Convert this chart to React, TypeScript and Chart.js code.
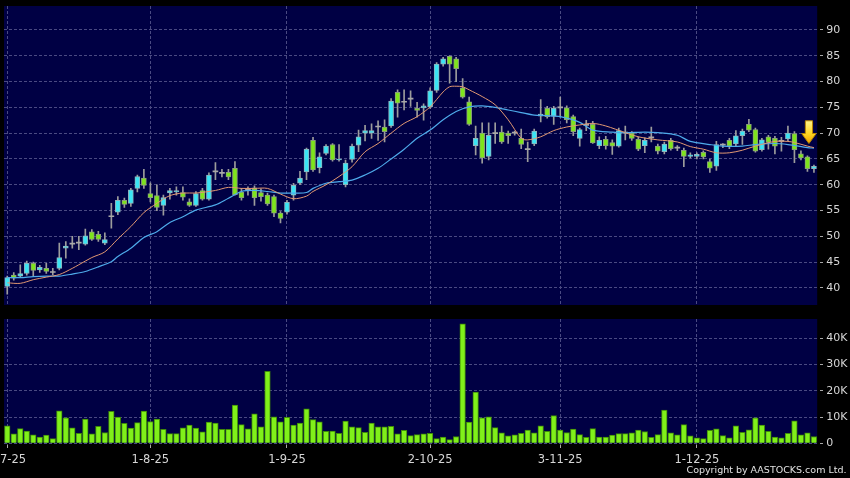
import React, { useEffect, useRef } from 'react';
import { Chart, registerables } from 'chart.js';

Chart.register(...registerables);

// ---- data ----
const opens = [
  40.3, 42.5, 42.3, 42.8, 44.8, 43.5, 43.8, 43.0, 43.8, 47.7,
  48.5, 48.7, 48.5, 50.9, 50.4, 48.7, 53.8, 54.7, 57.0, 56.4,
  59.3, 61.3, 58.3, 57.9, 56.0, 58.4, 58.6, 58.5, 56.7, 56.0,
  58.9, 57.2, 62.5, 62.2, 62.4, 63.2, 58.6, 59.0, 59.4, 58.5,
  58.0, 57.7, 54.5, 54.7, 58.0, 60.3, 62.5, 68.6, 63.3, 66.1,
  67.8, 64.8, 60.0, 64.9, 67.7, 70.0, 70.0, 71.2, 71.2, 71.4,
  77.9, 76.0, 76.6, 74.8, 74.9, 75.1, 78.3, 83.4, 84.9, 84.4,
  78.8, 76.1, 67.6, 70.0, 65.5, 69.9, 70.2, 70.0, 70.0, 69.0,
  66.8, 67.9, 73.3, 74.8, 73.3, 74.9, 74.9, 73.2, 69.0, 71.5,
  71.7, 67.6, 68.8, 68.2, 67.5, 70.0, 70.0, 68.8, 67.6, 69.1,
  67.5, 66.4, 68.6, 67.1, 66.7, 65.5, 65.5, 66.3, 64.5, 63.6,
  67.7, 68.6, 67.9, 69.5, 71.7, 70.7, 66.8, 69.3, 69.0, 68.4,
  68.9, 69.9, 66.0, 65.4, 63.1,
];
const closes = [
  42.0, 41.9, 42.8, 44.8, 43.4, 44.0, 43.2, 43.0, 45.9, 48.1,
  48.5, 48.7, 50.1, 49.4, 49.4, 49.4, 53.8, 57.0, 56.2, 59.0,
  61.6, 59.9, 57.5, 55.6, 57.5, 58.9, 58.9, 57.6, 56.0, 58.3,
  57.2, 61.9, 62.5, 62.2, 61.5, 58.1, 57.5, 59.0, 57.5, 57.7,
  56.3, 54.5, 53.5, 56.6, 59.9, 61.3, 66.9, 62.9, 65.4, 67.5,
  64.8, 65.0, 64.2, 67.5, 69.3, 70.5, 70.5, 71.2, 70.3, 76.2,
  75.8, 76.0, 76.6, 74.4, 75.3, 78.2, 83.4, 84.4, 83.4, 82.5,
  77.0, 71.7, 69.0, 65.2, 69.6, 69.9, 68.3, 69.5, 70.0, 67.8,
  66.8, 70.4, 73.7, 73.2, 74.8, 74.9, 72.6, 70.3, 70.7, 71.5,
  68.1, 68.6, 67.6, 67.5, 70.5, 70.0, 69.0, 66.9, 68.6, 69.1,
  66.5, 67.9, 67.0, 67.1, 65.5, 65.8, 65.9, 65.4, 63.2, 67.8,
  67.7, 67.5, 69.5, 70.4, 70.6, 66.5, 68.7, 68.2, 67.5, 68.4,
  70.0, 66.8, 65.2, 63.1, 63.6,
];
const highs = [
  42.3, 43.0, 44.5, 45.2, 45.0, 44.4, 44.8, 43.8, 48.7, 49.0,
  50.0, 50.0, 51.4, 51.3, 51.0, 50.7, 56.4, 57.7, 57.4, 59.3,
  61.9, 63.0, 60.4, 60.0, 58.0, 59.3, 59.6, 59.6, 57.3, 58.7,
  59.3, 62.3, 64.3, 63.0, 63.0, 64.5, 59.3, 59.6, 59.8, 59.2,
  58.4, 58.0, 54.8, 57.0, 60.3, 62.6, 67.1, 69.2, 66.2, 67.8,
  68.0, 67.8, 64.8, 67.9, 70.6, 71.5, 71.8, 72.4, 72.6, 76.7,
  78.4, 78.4, 78.2, 76.0, 75.7, 78.8, 83.7, 84.7, 85.0, 84.7,
  80.6, 77.0, 71.4, 72.0, 72.0, 72.0, 71.4, 70.4, 70.4, 70.8,
  68.3, 70.8, 76.5, 75.2, 75.2, 77.0, 75.3, 73.5, 71.0, 72.5,
  72.3, 69.3, 69.4, 68.7, 71.0, 71.4, 70.3, 69.3, 69.1, 71.2,
  67.9, 68.3, 69.0, 67.6, 67.1, 66.2, 66.2, 66.6, 65.0, 68.4,
  68.0, 69.0, 70.5, 70.8, 72.7, 71.0, 69.0, 69.6, 69.4, 69.2,
  71.4, 70.3, 66.6, 65.6, 63.8,
];
const lows = [
  38.8, 41.5, 42.0, 42.5, 42.3, 43.0, 42.8, 42.6, 43.5, 45.8,
  47.7, 47.4, 48.3, 49.2, 49.0, 48.4, 51.6, 54.2, 55.6, 55.8,
  58.6, 59.3, 56.7, 55.0, 54.1, 57.2, 58.0, 57.0, 55.8, 55.8,
  57.0, 57.0, 61.0, 61.5, 61.0, 58.0, 57.0, 58.0, 56.0, 56.8,
  56.0, 53.8, 52.6, 54.3, 57.0, 60.0, 61.0, 62.6, 62.3, 65.8,
  64.6, 64.6, 59.6, 64.4, 66.4, 68.5, 69.0, 68.6, 68.3, 71.1,
  73.1, 74.5, 75.2, 73.1, 72.5, 74.8, 77.9, 83.0, 79.7, 80.0,
  76.8, 71.5, 65.8, 64.2, 64.8, 68.0, 68.0, 68.0, 69.6, 67.0,
  64.5, 67.6, 72.2, 72.9, 71.7, 73.1, 72.0, 69.5, 67.5, 70.5,
  68.0, 67.0, 66.9, 65.9, 67.3, 68.7, 68.6, 66.6, 66.2, 68.3,
  66.0, 66.0, 66.7, 66.6, 63.5, 65.2, 65.0, 65.0, 62.4, 62.8,
  67.2, 67.0, 67.5, 67.8, 70.3, 66.3, 66.5, 66.9, 66.0, 66.5,
  68.5, 64.3, 64.8, 62.6, 62.4,
];
const volumes = [
  6700, 3600, 5600, 4700, 3200, 2400, 3100, 1800, 12400, 9700,
  5900, 3800, 9200, 3600, 6500, 4100, 12200, 10000, 7600, 5800,
  7900, 12300, 8300, 9200, 5300, 3700, 3700, 5900, 6900, 5800,
  4400, 8100, 7700, 5300, 5300, 14600, 7100, 5500, 11200, 6300,
  27400, 10100, 8200, 9900, 6900, 7700, 13100, 9000, 8200, 4600,
  4700, 3800, 8500, 6300, 6000, 4200, 7700, 6300, 6300, 6500,
  3600, 4900, 2900, 3300, 3600,
  3800, 1800, 2400, 1400, 2600, 45500, 8100, 19500, 9700, 10100,
  6000, 4000, 2800, 3200, 3800, 5000, 4000, 6700, 4600, 10600,
  5000, 4100, 5400, 3300, 2300, 5600, 2400, 2400, 3100, 3700,
  3700, 4000, 5000, 4500, 2300, 3300, 12700, 4000, 3200, 7100,
  2800, 2100, 1800, 4900, 5500, 2900, 2100, 6700, 4200, 5100,
  9700, 6900, 4600, 2400, 2100, 3800, 8600, 3200, 4000, 2600,
];

// moving-average lines, read at sampled days
const maShortDays = [0, 2, 4, 6, 8, 10, 11, 13, 15, 17, 19, 21, 23, 25, 27, 29, 32, 34, 36, 38, 40, 42, 44, 46, 47, 49, 51, 53, 55, 57, 59, 61, 63, 65, 67, 68, 69, 70, 71, 73, 75, 77, 79, 80, 82, 84, 86, 88, 90, 92, 95, 97, 100, 103, 105, 107, 109, 111, 113, 115, 118, 120, 121, 123, 124];
const maShortValues = [41.0, 40.9, 41.6, 42.1, 42.6, 43.8, 44.5, 45.9, 47.0, 49.5, 51.9, 54.6, 56.4, 57.9, 58.4, 58.4, 58.9, 59.5, 59.3, 59.3, 59.3, 58.2, 57.3, 57.8, 58.7, 60.0, 61.6, 63.5, 66.4, 68.0, 70.0, 71.9, 73.2, 75.1, 78.0, 79.0, 79.1, 79.0, 78.4, 77.1, 75.5, 72.6, 69.0, 68.7, 69.3, 70.5, 71.2, 71.6, 71.9, 71.4, 70.1, 69.3, 68.7, 68.3, 67.4, 66.9, 66.2, 66.2, 66.7, 67.5, 68.4, 68.4, 68.2, 67.5, 67.2];
const maLongDays = [0, 2, 4, 6, 8, 10, 12, 14, 16, 17, 19, 21, 23, 25, 27, 29, 32, 34, 36, 38, 40, 42, 44, 46, 47, 49, 51, 53, 55, 57, 59, 61, 63, 65, 67, 69, 71, 73, 75, 77, 79, 81, 83, 85, 88, 90, 93, 95, 98, 100, 103, 105, 108, 110, 113, 115, 118, 120, 123, 124];
const maLongValues = [42.0, 42.0, 42.2, 42.3, 42.3, 42.7, 43.2, 44.1, 45.1, 46.1, 47.7, 49.8, 50.9, 52.7, 53.8, 55.1, 56.1, 57.4, 58.7, 58.9, 58.7, 58.4, 58.4, 58.5, 59.3, 60.3, 60.6, 60.9, 61.9, 63.2, 65.0, 66.9, 69.0, 70.6, 72.6, 74.2, 75.1, 75.3, 75.0, 74.5, 74.0, 73.5, 73.4, 73.2, 72.1, 70.6, 70.2, 70.1, 70.2, 70.1, 69.6, 68.4, 67.8, 67.5, 67.5, 67.8, 68.0, 67.8, 67.2, 67.1];

const dateTickDays = [0, 22, 43, 65, 85, 106];
const dateTickLabels = ['2-7-25', '1-8-25', '1-9-25', '2-10-25', '3-11-25', '1-12-25'];
const priceTicks = [40, 45, 50, 55, 60, 65, 70, 75, 80, 85, 90];
const volumeTicks = [0, 10000, 20000, 30000, 40000];
const volumeTickLabels = ['0', '10K', '20K', '30K', '40K'];
const arrowTop = 72.4;
const arrowTip = 68.0;

const days = opens.map((_, i) => String(i));

// ---- styles ----
const FONT = 'DejaVu Sans';
const NAVY = '#000044';
const GRID = '#4a4a82';
const GRID_DASH = [3, 2];
const LABEL = '#d6d6d6';
const TICK = '#a8a8a8';
const UP = '#3ae4f4';
const DOWN = '#7ee41c';
const DOJI = '#a8a8a8';
const WICK = '#9c9c9c';
const RIGHT_AXIS_W = 850 - 817.2;

const kind = (i: number) => (closes[i] > opens[i] ? 'up' : closes[i] < opens[i] ? 'down' : 'flat');

const panelFill = {
  id: 'panelFill',
  beforeDraw(chart: any) {
    const { ctx, chartArea: a } = chart;
    ctx.save();
    ctx.fillStyle = NAVY;
    ctx.fillRect(a.left, a.top, a.right - a.left, a.bottom - a.top);
    ctx.restore();
  },
};

const arrowPlugin = {
  id: 'lastArrow',
  afterDatasetsDraw(chart: any) {
    const { ctx } = chart;
    const xs = chart.scales.x;
    const ys = chart.scales.y;
    const cx = xs.getPixelForValue(days.length - 1) - 5;
    const yTop = ys.getPixelForValue(arrowTop);
    const yTip = ys.getPixelForValue(arrowTip);
    const yNeck = yTop + (yTip - yTop) * 0.56;
    ctx.save();
    const g = ctx.createLinearGradient(0, yTop, 0, yTip);
    g.addColorStop(0, '#fff488');
    g.addColorStop(0.6, '#ffd21e');
    g.addColorStop(1, '#f0a000');
    ctx.beginPath();
    ctx.moveTo(cx - 3.6, yTop);
    ctx.lineTo(cx + 3.6, yTop);
    ctx.lineTo(cx + 3.6, yNeck);
    ctx.lineTo(cx + 7.3, yNeck);
    ctx.lineTo(cx, yTip);
    ctx.lineTo(cx - 7.3, yNeck);
    ctx.lineTo(cx - 3.6, yNeck);
    ctx.closePath();
    ctx.fillStyle = g;
    ctx.fill();
    ctx.strokeStyle = '#b88400';
    ctx.lineWidth = 1;
    ctx.stroke();
    ctx.restore();
  },
};

const xTicksFromDays = (s: any) => {
  s.ticks = dateTickDays.map((v) => ({ value: v }));
};

function priceConfig(): any {
  return {
    type: 'bar',
    data: {
      labels: days,
      datasets: [
        {
          type: 'line',
          label: 'MA short',
          data: maShortDays.map((d, k) => ({ x: days[d], y: maShortValues[k] })),
          borderColor: '#e29872',
          borderWidth: 1,
          pointRadius: 0,
          tension: 0.3,
          order: 0,
        },
        {
          type: 'line',
          label: 'MA long',
          data: maLongDays.map((d, k) => ({ x: days[d], y: maLongValues[k] })),
          borderColor: '#4eaaea',
          borderWidth: 1.2,
          pointRadius: 0,
          tension: 0.3,
          order: 0,
        },
        {
          label: 'Body',
          data: opens.map((o, i) => [o, closes[i]]),
          backgroundColor: days.map((_, i) => (kind(i) === 'up' ? UP : kind(i) === 'down' ? DOWN : DOJI)),
          borderColor: days.map((_, i) => (kind(i) === 'up' ? '#8fb4bc' : '#8aa07a')),
          borderWidth: days.map((_, i) => (kind(i) === 'flat' ? 0 : 1)),
          borderSkipped: false,
          barThickness: 5,
          minBarLength: 1,
          grouped: false,
          order: 1,
        },
        {
          label: 'Wick',
          data: lows.map((l, i) => [l, highs[i]]),
          backgroundColor: WICK,
          borderWidth: 0,
          barThickness: 1,
          grouped: false,
          order: 2,
        },
      ],
    },
    options: {
      animation: false,
      responsive: false,
      events: [],
      layout: { padding: { left: 4, top: 6, right: 0, bottom: 5 } },
      plugins: { legend: { display: false }, tooltip: { enabled: false } },
      scales: {
        x: {
          type: 'category',
          offset: true,
          grid: { color: GRID, offset: false, drawTicks: false, lineWidth: 1 },
          border: { display: false, dash: GRID_DASH },
          ticks: { display: false, autoSkip: false },
          afterBuildTicks: xTicksFromDays,
          afterFit: (s: any) => {
            s.height = 0;
            s.paddingLeft = 0;
            s.paddingRight = 0;
          },
        },
        y: {
          position: 'right',
          min: 36.7,
          max: 94.65,
          afterBuildTicks: (s: any) => {
            s.ticks = priceTicks.map((v) => ({ value: v }));
          },
          afterFit: (s: any) => {
            s.width = RIGHT_AXIS_W;
            s.paddingTop = 0;
            s.paddingBottom = 0;
          },
          grid: { color: GRID, tickColor: TICK, tickLength: 6, tickBorderDash: [0, 3, 3, 40] },
          border: { display: false, dash: GRID_DASH },
          ticks: { color: LABEL, font: { family: FONT, size: 11 }, padding: 3 },
        },
      },
    },
    plugins: [panelFill, arrowPlugin],
  };
}

function volumeConfig(): any {
  return {
    type: 'bar',
    data: {
      labels: days,
      datasets: [
        {
          label: 'Volume',
          data: volumes,
          backgroundColor: '#80f01a',
          borderColor: '#3f8a08',
          borderWidth: 1,
          borderSkipped: 'bottom',
          barThickness: 5.6,
        },
      ],
    },
    options: {
      animation: false,
      responsive: false,
      events: [],
      layout: { padding: { left: 4, top: 9, right: 0, bottom: 0 } },
      plugins: { legend: { display: false }, tooltip: { enabled: false } },
      scales: {
        x: {
          type: 'category',
          offset: true,
          grid: {
            color: GRID,
            offset: false,
            drawTicks: true,
            tickLength: 5,
            tickColor: TICK,
            tickBorderDash: [0, 1.5, 3.5, 40],
          },
          border: { display: false, dash: GRID_DASH },
          ticks: {
            autoSkip: false,
            maxRotation: 0,
            color: LABEL,
            font: { family: FONT, size: 11.5 },
            padding: 5,
            callback: (v: number) => dateTickLabels[dateTickDays.indexOf(v)],
          },
          afterBuildTicks: xTicksFromDays,
          afterFit: (s: any) => {
            s.height = 168 - 133.3;
            s.paddingLeft = 0;
            s.paddingRight = 0;
          },
        },
        y: {
          position: 'right',
          min: 0,
          max: 47350,
          afterBuildTicks: (s: any) => {
            s.ticks = volumeTicks.map((v) => ({ value: v }));
          },
          afterFit: (s: any) => {
            s.width = RIGHT_AXIS_W;
            s.paddingTop = 0;
            s.paddingBottom = 0;
          },
          grid: { color: GRID, tickColor: TICK, tickLength: 6, tickBorderDash: [0, 3, 3, 40] },
          border: { display: false, dash: GRID_DASH },
          ticks: {
            color: LABEL,
            font: { family: FONT, size: 11 },
            padding: 3,
            callback: (v: number) => volumeTickLabels[volumeTicks.indexOf(v)],
          },
        },
      },
    },
    plugins: [panelFill],
  };
}

export default function App() {
  const priceRef = useRef<HTMLCanvasElement>(null);
  const volRef = useRef<HTMLCanvasElement>(null);

  useEffect(() => {
    const p = new Chart(priceRef.current as HTMLCanvasElement, priceConfig());
    const v = new Chart(volRef.current as HTMLCanvasElement, volumeConfig());
    return () => {
      p.destroy();
      v.destroy();
    };
  }, []);

  return (
    <div
      style={{
        position: 'fixed',
        left: 0,
        top: 0,
        width: 850,
        height: 478,
        background: '#000',
        overflow: 'hidden',
      }}
    >
      <canvas ref={priceRef} width={850} height={310} style={{ position: 'absolute', left: 0, top: 0 }} />
      <canvas ref={volRef} width={850} height={168} style={{ position: 'absolute', left: 0, top: 310 }} />
      <div
        style={{
          position: 'absolute',
          left: 686.5,
          top: 464,
          font: '9.5px "DejaVu Sans"',
          lineHeight: '12px',
          color: '#e2e2e2',
          whiteSpace: 'nowrap',
        }}
      >
        Copyright by AASTOCKS.com Ltd.
      </div>
    </div>
  );
}
